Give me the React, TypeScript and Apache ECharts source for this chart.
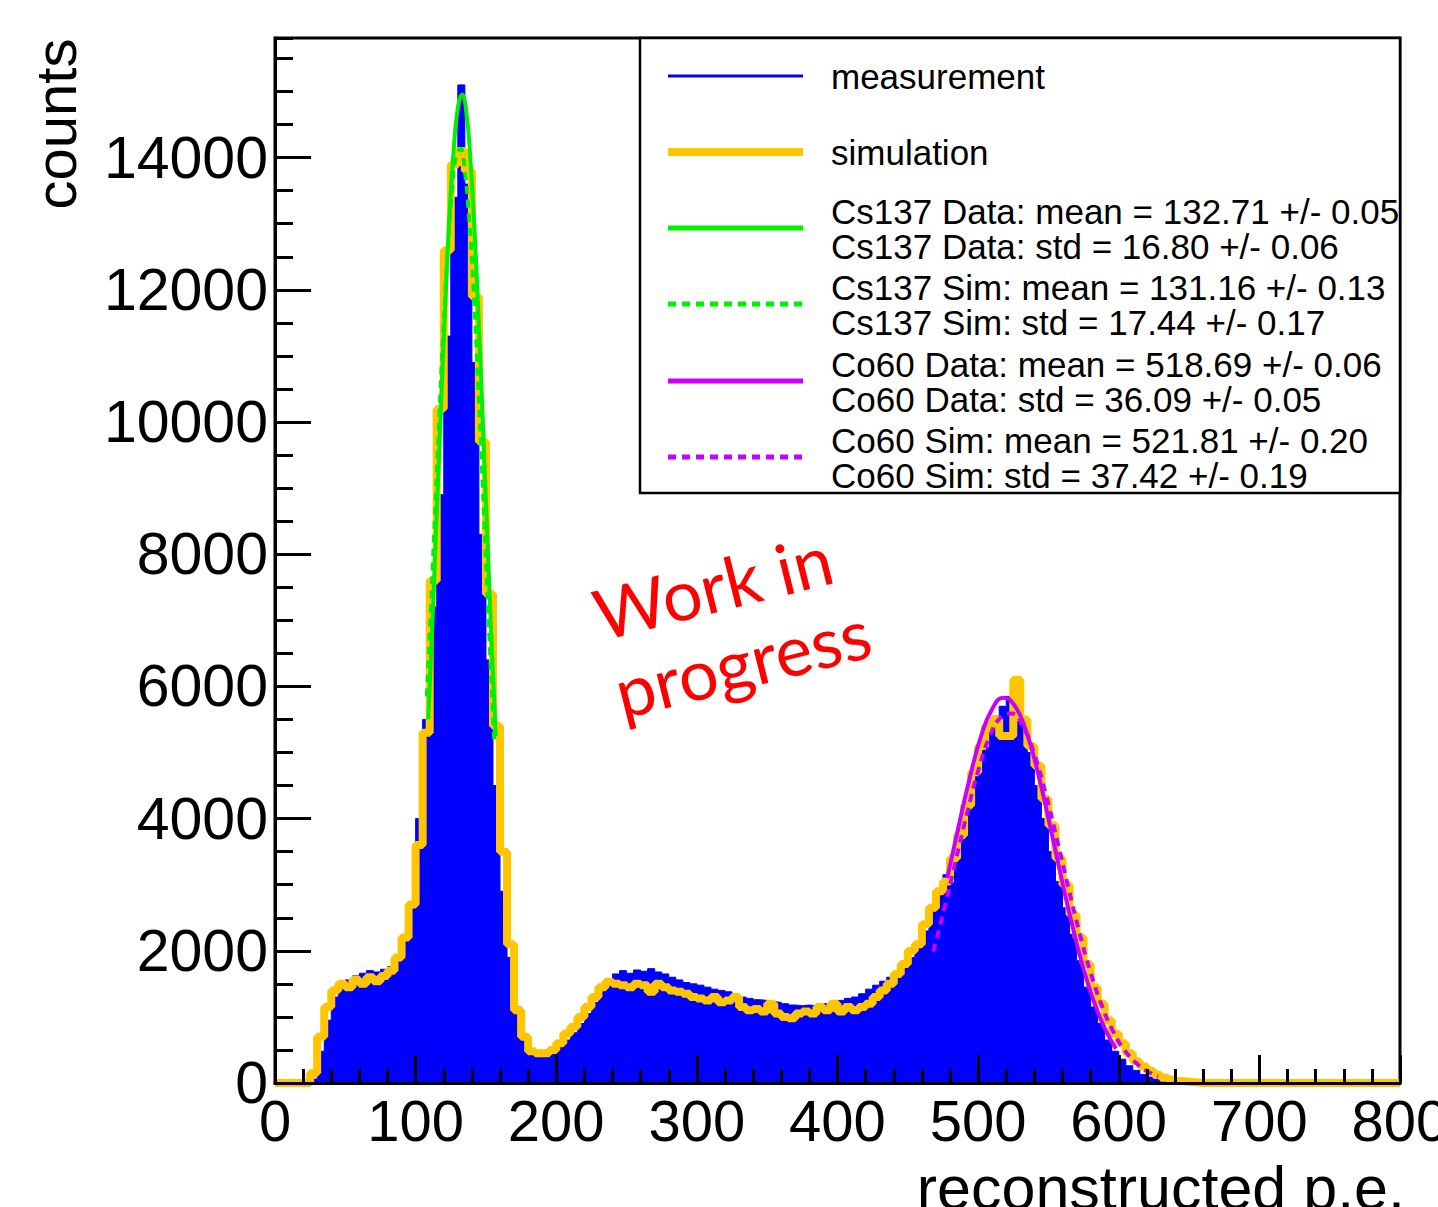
import React, { useEffect, useRef } from "react";
import * as echarts from "echarts";

const FONT = "'Liberation Sans', Arial, Helvetica, sans-serif";

// Histogram bin width (p.e.) and bin contents, bins start at 0
const BIN_WIDTH = 5;

const measurement = [
  0, 0, 0, 0, 0, 60, 480, 950, 1300, 1480,
  1560, 1620, 1660, 1700, 1680, 1720, 1760, 1900, 2150, 2700,
  4000, 5500, 7200, 8900, 11300, 13400, 15100, 13600, 10900, 8300,
  6400, 4500, 2900, 1900, 1150, 680, 450, 400, 400, 450,
  550, 650, 760, 900, 1050, 1220, 1400, 1550, 1650, 1700,
  1660, 1710, 1690, 1730, 1680, 1650, 1600, 1560, 1520, 1500,
  1480, 1450, 1420, 1400, 1380, 1340, 1300, 1280, 1260, 1250,
  1230, 1220, 1200, 1180, 1170, 1180, 1170, 1180, 1200, 1210,
  1250, 1280, 1300, 1350, 1420, 1480, 1540, 1600, 1680, 1780,
  1900, 2050, 2300, 2600, 2850, 3150, 3450, 3850, 4250, 4650,
  5050, 5300, 5550, 5700, 5850, 5800, 5450, 5000, 4500, 4000,
  3500, 3050, 2650, 2250, 1850, 1450, 1150, 900, 650, 480,
  360, 260, 190, 130, 90, 60, 40, 25, 15, 10,
  5, 0, 0, 0, 0, 0, 0, 0, 0, 0,
  0, 0, 0, 0, 0, 0, 0, 0, 0, 0,
  0, 0, 0, 0, 0, 0, 0, 0, 0, 0,
];

const simulation = [
  0, 0, 0, 0, 0, 150, 700, 1150, 1400, 1500,
  1450, 1560, 1500, 1600, 1540, 1620, 1700, 1900, 2200, 2700,
  3600, 5300, 7600, 10200, 12600, 13900, 14100, 13800, 11900, 9700,
  7400, 5400, 3500, 2100, 1100, 700, 480, 450, 450, 500,
  600, 750, 850, 1000, 1150, 1300, 1450, 1530, 1500, 1480,
  1450, 1500, 1480, 1380, 1500, 1450, 1400, 1380, 1350, 1300,
  1280, 1250, 1300, 1220, 1250, 1300, 1150, 1100, 1120, 1080,
  1200, 1050, 1000, 980, 1050, 1080, 1050, 1150, 1100, 1200,
  1080, 1150, 1100, 1150, 1200, 1300, 1400, 1500, 1650, 1800,
  2000, 2100, 2400, 2650, 2900, 3050, 3400, 3750, 4200, 4700,
  5100, 5400, 5500, 5250, 5250, 6100, 5500, 5100, 4800, 4300,
  3900, 3400, 3000, 2550, 2200, 1800, 1450, 1200, 950, 750,
  600, 450, 330, 250, 180, 120, 80, 50, 30, 20,
  10, 0, 0, 0, 0, 0, 0, 0, 0, 0,
  0, 0, 0, 0, 0, 0, 0, 0, 0, 0,
  0, 0, 0, 0, 0, 0, 0, 0, 0, 0,
];

// Fit curves, points
const csDataFitX = [109, 112, 115, 118, 121, 124, 127, 130, 133, 136, 139, 142, 145, 148, 151, 154, 157];
const csDataFitY = [5500, 7000, 8600, 10200, 11750, 13100, 14100, 14750, 14950, 14700, 13950, 12850, 11450, 9900, 8250, 6700, 5250];

const csSimFitX = [108, 111, 114, 117, 120, 123, 126, 129, 132, 135, 138, 141, 144, 147, 150, 153, 156];
const csSimFitY = [5850, 7250, 8700, 10150, 11500, 12650, 13550, 14050, 14130, 13800, 13100, 12100, 10800, 9400, 7900, 6500, 5150];

const coDataFitX = [478, 486, 494, 502, 510, 518, 526, 534, 542, 550, 558, 566, 574, 582, 590, 598];
const coDataFitY = [3100, 3870, 4610, 5240, 5660, 5830, 5710, 5330, 4740, 4000, 3220, 2470, 1800, 1250, 830, 520];

const coSimFitX = [468, 476, 484, 492, 500, 508, 516, 524, 532, 540, 548, 556, 564, 572, 580, 588, 596, 604, 612, 620, 628];
const coSimFitY = [1990, 2640, 3360, 4070, 4720, 5230, 5530, 5590, 5390, 4970, 4380, 3690, 2970, 2280, 1670, 1170, 780, 500, 310, 180, 100];

// Axis ranges and tick steps
const X_MIN = 0;
const X_MAX = 800;
const X_STEP = 100;
const Y_MIN = 0;
const Y_MAX = 15810;
const Y_STEP = 2000;
const Y_MINOR_STEP = 500;

// Legend entries
const legendEntries = [
  { lines: ["measurement"], color: "#0000ff", width: 3, dash: null as number[] | null, y: 76 },
  { lines: ["simulation"], color: "#ffc600", width: 8, dash: null, y: 152 },
  { lines: ["Cs137 Data: mean = 132.71 +/- 0.05", "Cs137 Data: std = 16.80 +/- 0.06"], color: "#00f000", width: 5, dash: null, y: 228 },
  { lines: ["Cs137 Sim: mean = 131.16 +/- 0.13", "Cs137 Sim: std = 17.44 +/- 0.17"], color: "#00f000", width: 5, dash: [8, 6], y: 304 },
  { lines: ["Co60 Data: mean = 518.69 +/- 0.06", "Co60 Data: std = 36.09 +/- 0.05"], color: "#c800ff", width: 5, dash: null, y: 381 },
  { lines: ["Co60 Sim: mean = 521.81 +/- 0.20", "Co60 Sim: std = 37.42 +/- 0.19"], color: "#c800ff", width: 5, dash: [8, 6], y: 457 },
];

function toHist(values: number[]) {
  const pts: number[][] = values.map((v, i) => [i * BIN_WIDTH, v]);
  pts.push([values.length * BIN_WIDTH, values[values.length - 1]]);
  return pts;
}

function zip(xs: number[], ys: number[]) {
  return xs.map((x, i) => [x, ys[i]]);
}

export default function App() {
  const ref = useRef<HTMLDivElement | null>(null);

  useEffect(() => {
    if (!ref.current) return;
    const chart = echarts.init(ref.current, undefined, { renderer: "svg" });

    const graphics: any[] = [];
    // legend box
    graphics.push({
      type: "rect",
      z: 100,
      shape: { x: 640, y: 38, width: 760, height: 455 },
      style: { fill: "#ffffff", stroke: "#000000", lineWidth: 2.5 },
    });
    legendEntries.forEach((e) => {
      graphics.push({
        type: "line",
        z: 101,
        shape: { x1: 668, y1: e.y, x2: 803, y2: e.y },
        style: { stroke: e.color, lineWidth: e.width, lineDash: e.dash || undefined },
      });
      if (e.lines.length === 1) {
        graphics.push({
          type: "text",
          z: 101,
          x: 831,
          y: e.y,
          style: { text: e.lines[0], fontSize: 35, lineHeight: 33, fontFamily: FONT, fill: "#000", align: "left", verticalAlign: "middle" },
        });
      } else {
        e.lines.forEach((t, k) => {
          graphics.push({
            type: "text",
            z: 101,
            x: 831,
            y: e.y - 17 + k * 35,
            style: { text: t, fontSize: 35, lineHeight: 33, fontFamily: FONT, fill: "#000", align: "left", verticalAlign: "middle" },
          });
        });
      }
    });
    // axis titles
    graphics.push({
      type: "text",
      z: 101,
      x: 55,
      y: 124,
      rotation: Math.PI / 2,
      style: { text: "counts", fontSize: 58, fontFamily: FONT, fill: "#000", align: "center", verticalAlign: "middle" },
    });
    graphics.push({
      type: "text",
      z: 101,
      x: 1405,
      y: 1188,
      style: { text: "reconstructed p.e.", fontSize: 61, fontFamily: FONT, fill: "#000", align: "right", verticalAlign: "middle" },
    });
    // watermark
    const rot = (14 * Math.PI) / 180;
    const wmFont = "Lato, 'Open Sans', sans-serif";
    graphics.push({
      type: "text",
      z: 101,
      x: 595,
      y: 615,
      rotation: rot,
      style: { text: "Work in", fontSize: 70, fontFamily: wmFont, fill: "#ff0000", align: "left", verticalAlign: "middle" },
    });
    graphics.push({
      type: "text",
      z: 101,
      x: 616,
      y: 693,
      rotation: rot,
      style: { text: "progress", fontSize: 70, fontFamily: wmFont, fill: "#ff0000", align: "left", verticalAlign: "middle" },
    });

    const tickStyle = { color: "#000", width: 3 };

    chart.setOption({
      animation: false,
      backgroundColor: "#ffffff",
      grid: {
        left: 275,
        top: 38,
        width: 1125,
        height: 1045,
        containLabel: false,
        outerBoundsMode: "none",
        show: true,
        borderColor: "#000",
        borderWidth: 3,
        backgroundColor: "transparent",
      },
      xAxis: {
        type: "value",
        min: X_MIN,
        max: X_MAX,
        interval: X_STEP,
        z: 10,
        axisLine: { show: true, onZero: false, lineStyle: { color: "#000", width: 3 } },
        axisTick: { show: true, inside: true, length: 28, lineStyle: tickStyle },
        minorTick: { show: true, splitNumber: 5, length: 14, lineStyle: tickStyle },
        splitLine: { show: false },
        minorSplitLine: { show: false },
        axisLabel: {
          fontSize: 58,
          color: "#000",
          fontFamily: FONT,
          margin: 8,
          showMinLabel: true,
          showMaxLabel: true,
          hideOverlap: false,
          formatter: (v: number) => String(v),
        },
      },
      yAxis: [
        {
          type: "value",
          min: Y_MIN,
          max: Y_MAX,
          interval: Y_STEP,
          z: 10,
          axisLine: { show: true, onZero: false, lineStyle: { color: "#000", width: 3 } },
          axisTick: { show: true, inside: true, length: 36, lineStyle: tickStyle },
          splitLine: { show: false },
          axisLabel: {
            fontSize: 59,
            color: "#000",
            fontFamily: FONT,
            margin: 7,
            showMaxLabel: false,
            formatter: (v: number) => String(v),
          },
        },
        {
          type: "value",
          min: Y_MIN,
          max: Y_MAX,
          interval: Y_MINOR_STEP,
          position: "left",
          z: 9,
          axisLine: { show: false },
          axisTick: { show: true, inside: true, length: 18, lineStyle: tickStyle },
          splitLine: { show: false },
          axisLabel: { show: false },
        },
      ],
      series: [
        {
          name: "measurement",
          type: "line",
          step: "end",
          data: toHist(measurement),
          symbol: "none",
          lineStyle: { color: "#0000ff", width: 1 },
          areaStyle: { color: "#0000ff", opacity: 1 },
          z: 2,
        },
        {
          name: "simulation",
          type: "line",
          step: "end",
          data: toHist(simulation),
          symbol: "none",
          lineStyle: { color: "#ffc600", width: 8 },
          z: 3,
        },
        {
          name: "Cs137 Data fit",
          type: "line",
          smooth: true,
          data: zip(csDataFitX, csDataFitY),
          symbol: "none",
          lineStyle: { color: "#00f000", width: 4 },
          z: 4,
        },
        {
          name: "Cs137 Sim fit",
          type: "line",
          smooth: true,
          data: zip(csSimFitX, csSimFitY),
          symbol: "none",
          lineStyle: { color: "#00f000", width: 4, type: [8, 6] },
          z: 5,
        },
        {
          name: "Co60 Data fit",
          type: "line",
          smooth: true,
          data: zip(coDataFitX, coDataFitY),
          symbol: "none",
          lineStyle: { color: "#c800ff", width: 4 },
          z: 4,
        },
        {
          name: "Co60 Sim fit",
          type: "line",
          smooth: true,
          data: zip(coSimFitX, coSimFitY),
          symbol: "none",
          lineStyle: { color: "#c800ff", width: 4, type: [8, 6] },
          z: 5,
        },
      ],
      graphic: graphics,
    });

    return () => chart.dispose();
  }, []);

  return (
    <div
      ref={ref}
      style={{ position: "absolute", left: 0, top: 0, width: 1438, height: 1207, background: "#fff" }}
    />
  );
}
